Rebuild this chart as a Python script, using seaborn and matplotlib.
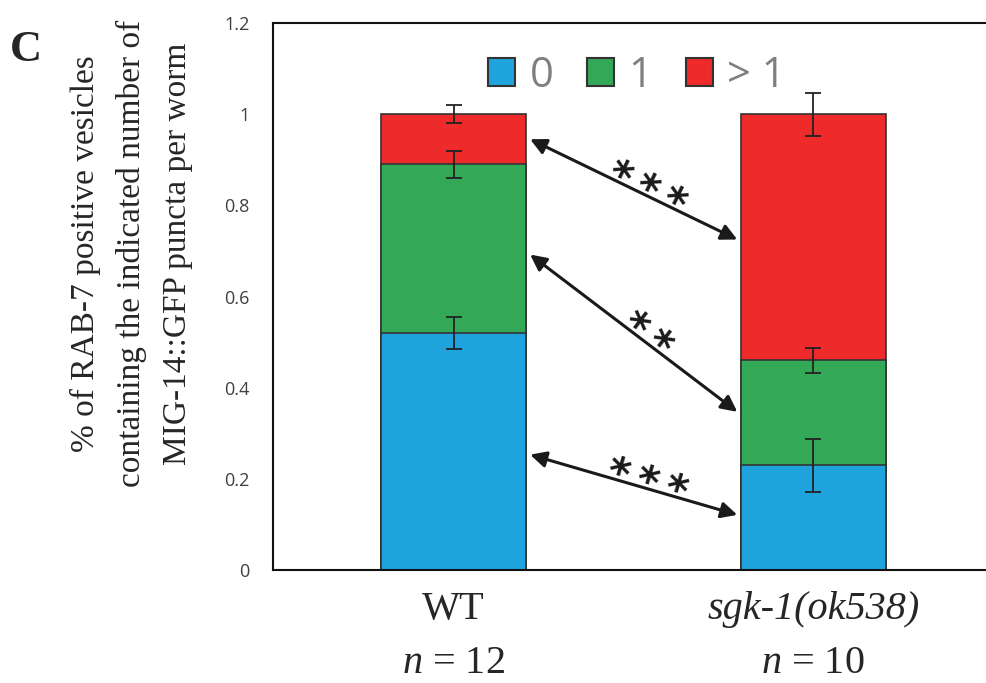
import numpy as np
import pandas as pd
import matplotlib.pyplot as plt
import seaborn as sns
from matplotlib.patches import Patch
from matplotlib.transforms import blended_transform_factory

# values (fraction of vesicles per worm)
genotypes = ['WT', 'sgk-1(ok538)']
n_labels = ['12', '10']
frac_0 = [0.52, 0.23]
frac_1 = [0.37, 0.23]
frac_more = [0.11, 0.54]
err_0 = [0.035, 0.058]
err_1 = [0.03, 0.027]
err_more = [0.02, 0.047]
categories = ['0', '1', '> 1']

# significance arrows: (y at WT bar, y at sgk-1 bar, stars)
arrow_y_left = [0.945, 0.692, 0.253]
arrow_y_right = [0.725, 0.347, 0.121]
stars = ['***', '**', '***']

colors = ['#1fa3dc', '#33a857', '#ee2a2a']
edge = '#333333'

df = pd.DataFrame({'genotype': genotypes, 'f0': frac_0, 'f1': frac_1, 'fm': frac_more})
df['top0'] = df['f0']
df['top1'] = df['f0'] + df['f1']
df['topm'] = df['top1'] + df['fm']

sns.set_style('white')
plt.rcParams['font.family'] = ['Liberation Serif', 'DejaVu Serif']
plt.rcParams['mathtext.fontset'] = 'custom'
plt.rcParams['mathtext.it'] = 'Liberation Serif:italic'
plt.rcParams['mathtext.rm'] = 'Liberation Serif'

fig = plt.figure(figsize=(9.86, 6.83), dpi=100)
ax = fig.add_axes([273 / 986, 113 / 683, 720 / 986, 547 / 683])

# stacked bars: draw cumulative tops from tallest to shortest
bw = 0.403
for col, c in zip(['topm', 'top1', 'top0'], colors[::-1]):
    sns.barplot(data=df, x='genotype', y=col, color=c, saturation=1, width=bw,
                edgecolor=edge, linewidth=1.2, errorbar=None, ax=ax)

xs = np.arange(len(genotypes))
for tops, errs in [(df['top0'], err_0), (df['top1'], err_1), (df['topm'], err_more)]:
    ax.errorbar(xs, tops, yerr=errs, fmt='none', ecolor='#222222', elinewidth=1.3,
                capsize=5.5, capthick=1.3, zorder=5)

ax.set_xlim(-0.502, 1.5)
ax.set_ylim(0, 1.2)
ax.set_yticks([0, 0.2, 0.4, 0.6, 0.8, 1.0, 1.2])
ax.set_yticklabels(['0', '0.2', '0.4', '0.6', '0.8', '1', '1.2'],
                   family='Open Sans', fontsize=13, color='#404040')
ax.tick_params(axis='y', length=0, pad=17)
ax.tick_params(axis='x', length=0, pad=15)
ax.set_xlabel('')
ax.set_xticks(xs)
ax.set_xticklabels(genotypes, fontsize=29)
ax.get_xticklabels()[1].set_style('italic')

for s in ['left', 'top', 'bottom']:
    ax.spines[s].set_color('#111111')
    ax.spines[s].set_linewidth(1.5)
ax.spines['right'].set_visible(False)

ax.set_ylabel('% of RAB-7 positive vesicles\ncontaining the indicated number of\nMIG-14::GFP puncta per worm',
              fontsize=24, linespacing=1.65)
ax.yaxis.set_label_coords(-80 / 720, 0.578)

# n per genotype under the labels
trans = blended_transform_factory(ax.transData, fig.transFigure)
for x, n in zip(xs, n_labels):
    ax.text(x, 0.014, '$n$ = ' + n, transform=trans, ha='center', va='baseline', fontsize=29)

# significance arrows
x0, x1 = 0.213, 0.789
for yl, yr, st in zip(arrow_y_left, arrow_y_right, stars):
    ax.annotate('', xy=(x1, yr), xytext=(x0, yl),
                arrowprops=dict(arrowstyle='<|-|>', color='#1a1a1a', lw=2.2,
                                mutation_scale=24, shrinkA=0, shrinkB=0))
    p0 = ax.transData.transform((x0, yl))
    p1 = ax.transData.transform((x1, yr))
    ang = np.degrees(np.arctan2(p1[1] - p0[1], p1[0] - p0[0]))
    mx, my = (p0 + p1) / 2
    ca, sa = np.cos(np.radians(ang)), np.sin(np.radians(ang))
    # shift along the arrow and a little above it
    px, py = mx + 12 * ca - 4 * sa, my + 12 * sa + 4 * ca
    tx, ty = ax.transData.inverted().transform((px, py))
    ax.text(tx, ty, '\u2009'.join(st), rotation=ang, rotation_mode='anchor', ha='center',
            va='center', fontsize=30, fontweight='bold', family='DejaVu Sans', color='#1a1a1a')

handles = [Patch(facecolor=c, edgecolor=edge, linewidth=1.5) for c in colors]
ax.legend(handles, categories, loc='center', bbox_to_anchor=(637 / 986, 607 / 683),
          bbox_transform=fig.transFigure, ncol=3, frameon=False,
          prop={'family': 'Open Sans', 'size': 30}, labelcolor='#7f7f7f',
          handlelength=0.65, handleheight=0.65, handletextpad=0.35, columnspacing=0.8)

fig.text(10 / 986, 622 / 683, 'C', fontsize=32, fontweight='bold', ha='left', va='baseline')

plt.savefig('out.png', dpi=100)
plt.close()
